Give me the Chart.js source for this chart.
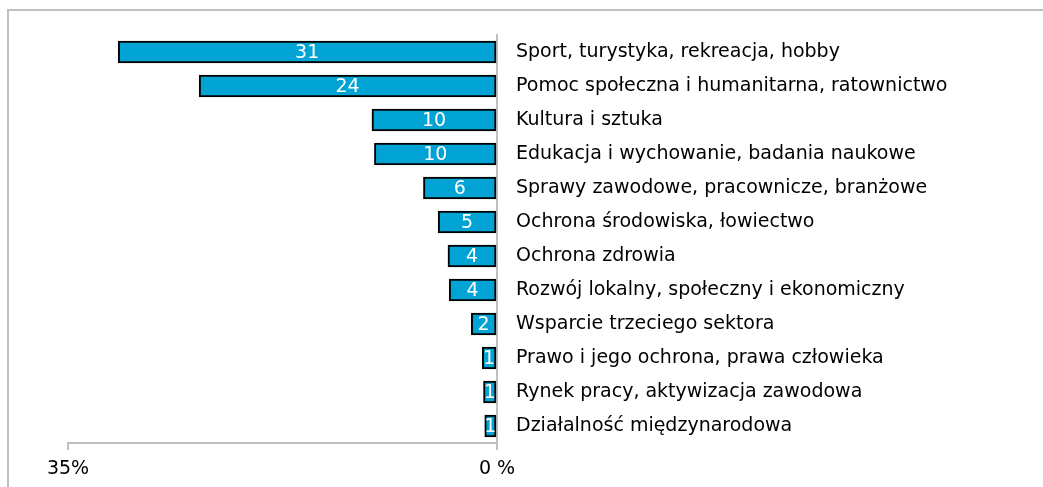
<!DOCTYPE html>
<html>
<head>
<meta charset="utf-8">
<script src="https://cdn.jsdelivr.net/npm/chart.js@4"></script>
<style>
    html, body { margin: 0; padding: 0; background: #fff; overflow: hidden; }
    #frame { position: absolute; left: 7px; top: 9px; width: 1040px; height: 480px;
             border-top: 2px solid #c0c0c0; border-left: 2px solid #c0c0c0; }
    #wrap { position: absolute; left: 0; top: 0; width: 1043px; height: 487px; }
</style>
</head>
<body>
<div id="frame"></div>
<div id="wrap"><canvas id="chart"></canvas></div>
<script>
const categories = [
    'Sport, turystyka, rekreacja, hobby',
    'Pomoc społeczna i humanitarna, ratownictwo',
    'Kultura i sztuka',
    'Edukacja i wychowanie, badania naukowe',
    'Sprawy zawodowe, pracownicze, branżowe',
    'Ochrona środowiska, łowiectwo',
    'Ochrona zdrowia',
    'Rozwój lokalny, społeczny i ekonomiczny',
    'Wsparcie trzeciego sektora',
    'Prawo i jego ochrona, prawa człowieka',
    'Rynek pracy, aktywizacja zawodowa',
    'Działalność międzynarodowa'
];
const shares = [30.9, 24.3, 10.2, 10.0, 6.0, 4.8, 4.0, 3.9, 2.1, 1.2, 1.1, 1.0];
const shareLabels = ['31', '24', '10', '10', '6', '5', '4', '4', '2', '1', '1', '1'];
const axisTicks = [0, 35];

const font = { family: 'DejaVu Sans', size: 19 };

// white numbers in the middle of each bar
const valueLabels = {
    id: 'valueLabels',
    afterDatasetsDraw(chart) {
        const ctx = chart.ctx;
        const meta = chart.getDatasetMeta(0);
        ctx.save();
        ctx.fillStyle = '#fff';
        ctx.font = font.size + 'px ' + font.family;
        ctx.textAlign = 'center';
        ctx.textBaseline = 'middle';
        meta.data.forEach((bar, i) => {
            const cx = (bar.x + bar.base) / 2;
            ctx.fillText(shareLabels[i], cx, bar.y + 1);
        });
        ctx.restore();
    }
};

new Chart(document.getElementById('chart'), {
    type: 'bar',
    data: {
        labels: categories,
        datasets: [{
            data: shares,
            backgroundColor: '#00a3d4',
            borderColor: '#000',
            borderWidth: 2,
            borderSkipped: false,
            barThickness: 22
        }]
    },
    options: {
        indexAxis: 'y',
        responsive: true,
        maintainAspectRatio: false,
        animation: false,
        layout: { padding: { left: 68, top: 35, right: 0, bottom: 0 } },
        plugins: {
            legend: { display: false },
            tooltip: { enabled: false }
        },
        scales: {
            x: {
                reverse: true,
                min: axisTicks[0],
                max: axisTicks[1],
                position: 'bottom',
                afterBuildTicks(scale) {
                    scale.ticks = axisTicks.map(v => ({ value: v }));
                },
                afterFit(scale) { scale.height = 44; },
                grid: {
                    drawOnChartArea: false,
                    drawTicks: true,
                    tickLength: 7,
                    color: '#c0c0c0',
                    lineWidth: 2
                },
                border: { display: true, color: '#c0c0c0', width: 2 },
                ticks: {
                    color: '#000',
                    font: font,
                    padding: 8,
                    maxRotation: 0,
                    callback: v => v === 0 ? '0 %' : v + '%'
                }
            },
            y: {
                position: 'right',
                afterFit(scale) { scale.width = 1043 - 497; },
                grid: { display: false, drawTicks: false },
                border: { display: true, color: '#c0c0c0', width: 2 },
                ticks: {
                    color: '#000',
                    font: font,
                    padding: 19,
                    autoSkip: false
                }
            }
        }
    },
    plugins: [valueLabels]
});
</script>
</body>
</html>
